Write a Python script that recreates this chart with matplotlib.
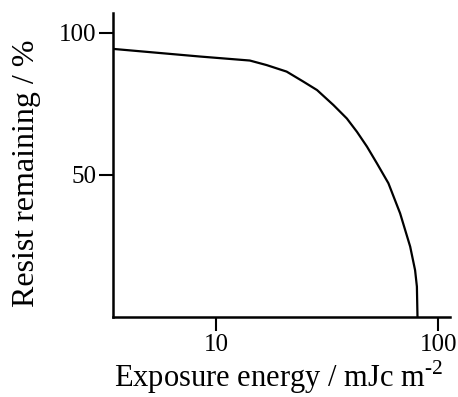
import matplotlib
matplotlib.use("Agg")
import matplotlib.pyplot as plt

# Resist remaining vs exposure energy
energy = [3.44, 8.5, 14.2, 16.9, 20.8, 24.7, 28.5, 33.8, 38.8, 43.1, 47.8,
          53.0, 59.7, 67.4, 74.8, 78.7, 80.2, 80.7]
remaining = [94.4, 91.7, 90.3, 88.7, 86.4, 82.9, 79.9, 74.6, 69.9, 65.2, 60.0,
             54.1, 47.1, 36.5, 24.8, 16.5, 10.7, 0.0]

xTicks = [10, 100]
xTickLabels = ["10", "100"]
yTicks = [50, 100]
yTickLabels = ["50", "100"]

plt.rcParams["font.family"] = ["Liberation Serif", "DejaVu Serif"]
plt.rcParams["mathtext.fontset"] = "custom"
plt.rcParams["mathtext.rm"] = "Liberation Serif"

fig = plt.figure(figsize=(4.58, 3.97), dpi=100)
ax = fig.add_axes([0.2467, 0.2015, 0.7358, 0.7655])

ax.plot(energy, remaining, color="black", linewidth=1.6)

ax.set_xscale("log")
ax.set_xlim(3.44, 113)
ax.set_ylim(0, 107)

ax.set_xticks(xTicks)
ax.set_xticklabels(xTickLabels)
ax.xaxis.set_minor_locator(matplotlib.ticker.NullLocator())
ax.set_yticks(yTicks)
ax.set_yticklabels(yTickLabels)

ax.tick_params(direction="out", length=10, width=1.5, labelsize=18, pad=2)

for side in ["top", "right"]:
    ax.spines[side].set_visible(False)
for side in ["left", "bottom"]:
    ax.spines[side].set_linewidth(1.8)

ax.set_xlabel(r"Exposure energy / mJc m$^{\text{-2}}$", fontsize=22)
ax.set_ylabel("Resist remaining / %", fontsize=23)
ax.xaxis.set_label_coords(0.49, -0.135)
ax.yaxis.set_label_coords(-0.214, 0.474)

fig.savefig("out.png", dpi=100)
